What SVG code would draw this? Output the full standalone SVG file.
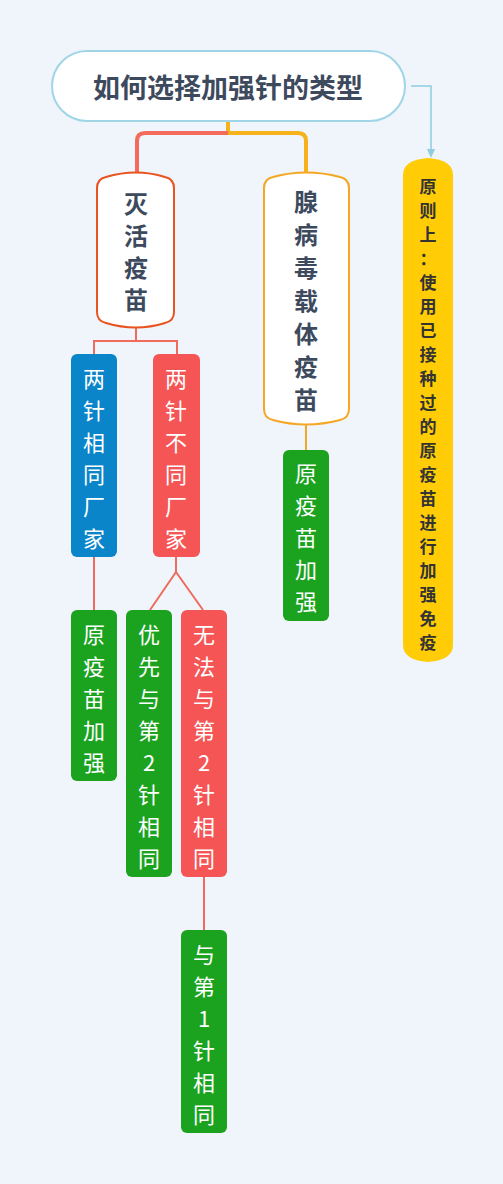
<svg xmlns="http://www.w3.org/2000/svg" width="503" height="1184" viewBox="0 0 503 1184">
<style>
.t{font-family:"Noto Sans CJK SC","Noto Sans",sans-serif;text-anchor:middle;dominant-baseline:central}
.dk{fill:#3d4a5e;font-weight:bold;font-size:24px}
.wh{fill:#ffffff;font-size:22px}
.yl{fill:#333333;font-weight:bold;font-size:17px}
.lnR{fill:none;stroke:#ef6b5c;stroke-width:2}
</style>
<defs>
<marker id="arr" markerWidth="10" markerHeight="10" refX="5" refY="5" orient="auto" markerUnits="userSpaceOnUse">
<path d="M0,1 L9,5 L0,9 Z" fill="#8fcde0"/>
</marker>
</defs>
<rect width="503" height="1184" fill="#eff5fb"/>
<g id="connectors">
<path d="M228,121 V133" stroke="#f5b21b" stroke-width="4" fill="none"/>
<path d="M228,133 H145 Q137,133 137,141 V173" stroke="#f26b5b" stroke-width="4" fill="none"/>
<path d="M228,133 H298 Q306,133 306,141 V173" stroke="#f5b21b" stroke-width="4" fill="none"/>
<path d="M411,86 H431 V154" stroke="#8fcde0" stroke-width="1.5" fill="none" marker-end="url(#arr)"/>
<path class="lnR" d="M136,328 V341 M94,354 V341 H177 V354"/>
<path class="lnR" d="M94,557 V610"/>
<path class="lnR" d="M176,557 V572 L150,610 M176,572 L203,610"/>
<path class="lnR" d="M204,877 V930"/>
<path d="M306,425 V450" stroke="#f5a623" stroke-width="2" fill="none"/>
</g>
<g id="root">
<rect x="52" y="51" width="353" height="70" rx="35" fill="#ffffff" stroke="#9fd5e6" stroke-width="2"/>
<text class="t dk" x="228" y="86" style="font-size:27px">如何选择加强针的类型</text>
</g>
<g id="n-miehuo">
<path d="M97,188 Q97,179 106,177 Q136,168 165,177 Q174,179 174,188 V312 Q174,321 165,323 Q136,332 106,323 Q97,321 97,312 Z" fill="#ffffff" stroke="#e8531f" stroke-width="2"/>
<text class="t dk" x="136" y="202"><tspan x="136" y="202">灭</tspan><tspan x="136" y="234">活</tspan><tspan x="136" y="266">疫</tspan><tspan x="136" y="298">苗</tspan></text>
</g>
<g id="n-xianbingdu">
<path d="M264,188 Q264,179 273,177 Q306,168 340,177 Q349,179 349,188 V409 Q349,418 340,420 Q306,429 273,420 Q264,418 264,409 Z" fill="#ffffff" stroke="#f5a623" stroke-width="2"/>
<text class="t dk" x="306" y="200"><tspan x="306" y="200">腺</tspan><tspan x="306" y="233">病</tspan><tspan x="306" y="266">毒</tspan><tspan x="306" y="299">载</tspan><tspan x="306" y="332">体</tspan><tspan x="306" y="365">疫</tspan><tspan x="306" y="398">苗</tspan></text>
</g>
<g id="n-yuanze">
<path d="M403,175 Q403,160 428,158 Q453,160 453,175 V645 Q453,660 428,662 Q403,660 403,645 Z" fill="#ffcc05"/>
<text class="t yl" x="428" y="185"><tspan x="428" y="185">原</tspan><tspan x="428" y="209">则</tspan><tspan x="428" y="233">上</tspan><tspan x="428" y="257">：</tspan><tspan x="428" y="281">使</tspan><tspan x="428" y="305">用</tspan><tspan x="428" y="329">已</tspan><tspan x="428" y="353">接</tspan><tspan x="428" y="377">种</tspan><tspan x="428" y="401">过</tspan><tspan x="428" y="425">的</tspan><tspan x="428" y="449">原</tspan><tspan x="428" y="473">疫</tspan><tspan x="428" y="497">苗</tspan><tspan x="428" y="521">进</tspan><tspan x="428" y="545">行</tspan><tspan x="428" y="569">加</tspan><tspan x="428" y="593">强</tspan><tspan x="428" y="617">免</tspan><tspan x="428" y="641">疫</tspan></text>
</g>
<g id="n-same">
<rect x="71" y="354" width="46" height="203" rx="6" fill="#0a85c9"/>
<text class="t wh" x="94" y="377"><tspan x="94" y="377">两</tspan><tspan x="94" y="409">针</tspan><tspan x="94" y="441">相</tspan><tspan x="94" y="473">同</tspan><tspan x="94" y="505">厂</tspan><tspan x="94" y="537">家</tspan></text>
</g>
<g id="n-diff">
<rect x="153" y="354" width="47" height="203" rx="6" fill="#f55555"/>
<text class="t wh" x="176" y="377"><tspan x="176" y="377">两</tspan><tspan x="176" y="409">针</tspan><tspan x="176" y="441">不</tspan><tspan x="176" y="473">同</tspan><tspan x="176" y="505">厂</tspan><tspan x="176" y="537">家</tspan></text>
</g>
<g id="n-yuan1">
<rect x="71" y="610" width="46" height="171" rx="6" fill="#1ba31f"/>
<text class="t wh" x="94" y="633"><tspan x="94" y="633">原</tspan><tspan x="94" y="665">疫</tspan><tspan x="94" y="697">苗</tspan><tspan x="94" y="729">加</tspan><tspan x="94" y="761">强</tspan></text>
</g>
<g id="n-youxian">
<rect x="126" y="610" width="46" height="267" rx="6" fill="#1ba31f"/>
<text class="t wh" x="149" y="633"><tspan x="149" y="633">优</tspan><tspan x="149" y="665">先</tspan><tspan x="149" y="697">与</tspan><tspan x="149" y="729">第</tspan><tspan x="149" y="761">2</tspan><tspan x="149" y="793">针</tspan><tspan x="149" y="825">相</tspan><tspan x="149" y="857">同</tspan></text>
</g>
<g id="n-wufa">
<rect x="181" y="610" width="46" height="267" rx="6" fill="#f55555"/>
<text class="t wh" x="204" y="633"><tspan x="204" y="633">无</tspan><tspan x="204" y="665">法</tspan><tspan x="204" y="697">与</tspan><tspan x="204" y="729">第</tspan><tspan x="204" y="761">2</tspan><tspan x="204" y="793">针</tspan><tspan x="204" y="825">相</tspan><tspan x="204" y="857">同</tspan></text>
</g>
<g id="n-di1">
<rect x="181" y="930" width="46" height="203" rx="6" fill="#1ba31f"/>
<text class="t wh" x="204" y="953"><tspan x="204" y="953">与</tspan><tspan x="204" y="985">第</tspan><tspan x="204" y="1017">1</tspan><tspan x="204" y="1049">针</tspan><tspan x="204" y="1081">相</tspan><tspan x="204" y="1113">同</tspan></text>
</g>
<g id="n-yuan2">
<rect x="283" y="450" width="46" height="171" rx="6" fill="#1ba31f"/>
<text class="t wh" x="306" y="472"><tspan x="306" y="472">原</tspan><tspan x="306" y="504">疫</tspan><tspan x="306" y="536">苗</tspan><tspan x="306" y="568">加</tspan><tspan x="306" y="600">强</tspan></text>
</g>
</svg>
